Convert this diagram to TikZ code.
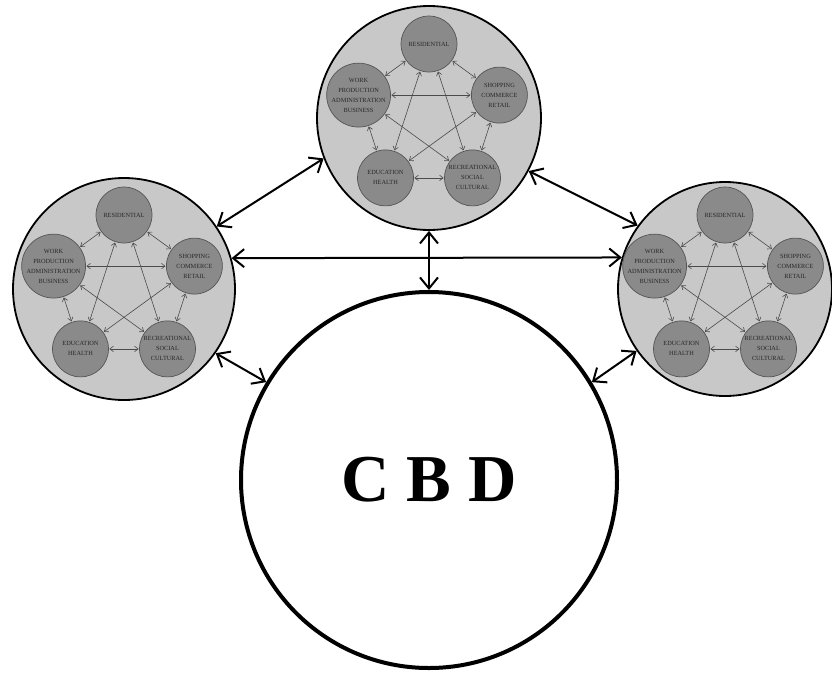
\documentclass[tikz,border=0pt]{standalone}
\usepackage{fontspec}
\setmainfont{Liberation Serif}
\usetikzlibrary{arrows.meta}
\definecolor{clfill}{RGB}{200,200,200}
\definecolor{ndfill}{RGB}{138,138,138}
\definecolor{nddraw}{RGB}{85,85,85}
\definecolor{ndtext}{RGB}{40,40,40}
\definecolor{inarrow}{RGB}{75,75,75}
\tikzset{
  clusterc/.style={circle, draw=black, line width=1.8pt, fill=clfill, inner sep=0pt},
  sub/.style={circle, draw=nddraw, line width=0.7pt, fill=ndfill, minimum size=56pt,
    inner sep=0pt, align=center, text=ndtext, font=\fontsize{6.3}{10}\selectfont},
  inlink/.style={draw=inarrow, line width=0.6pt,
    {Straight Barb[length=3.5pt,width=5.5pt]}-{Straight Barb[length=3.5pt,width=5.5pt]},
    shorten >=0.6pt, shorten <=0.6pt},
  outlink/.style={draw=black, line width=2pt,
    {Straight Barb[length=11pt,width=18pt]}-{Straight Barb[length=11pt,width=18pt]}},
  cbd/.style={circle, draw=black, line width=4pt, fill=white, minimum size=376pt,
    inner sep=0pt, font=\fontsize{67}{67}\selectfont\bfseries}
}
\newcommand\makecluster[4]{%
  \node[clusterc, minimum size=#4] (#1) at (#2,#3) {};
  \node[sub] (#1r) at (#2,#3-74) {RESIDENTIAL};
  \node[sub] (#1s) at (#2+70.4,#3-22.9) {SHOPPING\\COMMERCE\\RETAIL};
  \node[sub] (#1x) at (#2+43.5,#3+59.9) {RECREATIONAL\\SOCIAL\\CULTURAL};
  \node[sub] (#1e) at (#2-43.5,#3+59.9) {EDUCATION\\HEALTH};
  \node[sub] (#1w) at (#2-70.4,#3-22.9) {WORK\\PRODUCTION\\ADMINISTRATION\\BUSINESS};
  \foreach \a/\b in {r/s,s/x,x/e,e/w,w/r,r/e,r/x,w/s,w/x,s/e}
    {\draw[inlink] (#1\a) -- (#1\b);}
}
\begin{document}
\begin{tikzpicture}[x=1pt,y=-1pt]
  \useasboundingbox (0,0) rectangle (832,673);
  \makecluster{T}{429}{118}{224pt}
  \makecluster{L}{124}{289}{222pt}
  \makecluster{R}{725}{289}{214pt}
  \node[cbd] (C) at (429,480) {C B D};
  \draw[outlink] (L.34.5) -- (T.201.4);
  \draw[outlink] (T.-28.1) -- (R.144.3);
  \draw[outlink] (L.16.2) -- (R.163.2);
  \draw[outlink] (T.270) -- (C.90);
  \draw[outlink] (L.-35.1) -- (C.149.4);
  \draw[outlink] (R.215.6) -- (C.31.8);
\end{tikzpicture}
\end{document}
